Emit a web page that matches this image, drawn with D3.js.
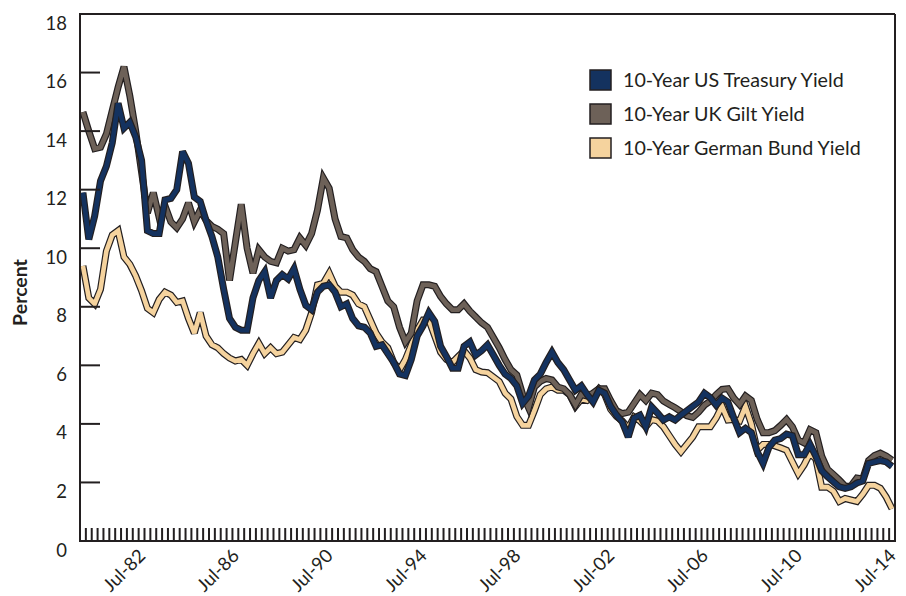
<!DOCTYPE html>
<html>
<head>
<meta charset="utf-8">
<script src="https://cdn.jsdelivr.net/npm/d3@7/dist/d3.min.js"></script>
<style>
  html, body { margin: 0; padding: 0; background: #ffffff; }
  svg { display: block; }
  text { font-family: "Lato", "Open Sans", sans-serif; fill: #231f20; }
</style>
</head>
<body>
<svg id="chart" width="906" height="596"></svg>
<script>
// ---------------- DATA ----------------
const monthNames = ["Jan", "Apr", "Jul", "Oct"];
const quarters = [];
for (let yr = 1980; yr <= 2014; yr++) {
  for (let q = 0; q < 4; q++) {
    if (yr === 2014 && q > 2) break;
    quarters.push(monthNames[q] + "-" + String(yr).slice(2));
  }
}

const xTickLabels = ["Jul-82", "Jul-86", "Jul-90", "Jul-94", "Jul-98", "Jul-02", "Jul-06", "Jul-10", "Jul-14"];
const yTicks = [0, 2, 4, 6, 8, 10, 12, 14, 16, 18];

const usTreasury = [
  11.9,10.3,11.1,12.3,12.8,13.6,14.95,14.1,14.3,13.8,
  13.0,10.6,10.5,10.5,11.65,11.7,12.0,13.3,12.9,11.75,
  11.6,10.95,10.4,9.7,8.6,7.6,7.3,7.2,7.2,8.3,
  8.9,9.2,8.3,8.9,9.1,8.95,9.3,8.6,8.05,7.9,
  8.5,8.7,8.75,8.5,8.0,8.1,7.6,7.35,7.3,7.1,
  6.65,6.7,6.4,6.1,5.7,5.65,6.2,7.0,7.35,7.8,
  7.5,6.65,6.3,5.9,5.9,6.65,6.8,6.35,6.5,6.7,
  6.35,6.0,5.7,5.55,5.3,4.7,4.95,5.5,5.7,6.1,
  6.45,6.1,5.85,5.5,5.15,5.3,5.0,4.75,5.15,5.05,
  4.6,4.3,4.06,3.55,4.2,4.3,3.9,4.58,4.37,4.13,
  4.24,4.13,4.3,4.45,4.6,4.75,5.05,4.9,4.64,4.88,
  4.75,4.2,3.7,3.85,3.7,3.05,2.65,3.2,3.45,3.5,
  3.65,3.6,2.95,2.95,3.3,2.9,2.4,2.2,2.02,1.85,
  1.8,1.85,1.98,2.05,2.65,2.7,2.75,2.7,2.55
];

const ukGilt = [
  14.65,14.0,13.4,13.45,13.9,14.7,15.5,16.2,15.2,14.0,
  12.6,11.2,11.9,11.05,11.45,10.9,10.7,11.0,11.55,10.9,
  11.3,10.95,10.75,10.65,10.5,8.9,10.2,11.5,10.0,9.15,
  9.95,9.7,9.55,9.5,10.0,9.9,9.95,10.35,10.1,10.5,
  11.3,12.4,12.05,11.0,10.4,10.35,9.95,9.7,9.55,9.3,
  9.2,8.7,8.2,8.0,7.3,6.8,7.1,8.2,8.75,8.75,
  8.7,8.35,8.1,7.9,7.9,8.1,7.85,7.65,7.45,7.3,
  6.95,6.6,6.2,5.85,5.67,5.0,4.55,5.26,5.45,5.55,
  5.5,5.26,5.2,5.0,4.65,5.0,4.95,5.05,5.2,5.2,
  4.8,4.45,4.35,4.4,4.7,5.0,4.8,5.05,5.0,4.78,
  4.66,4.55,4.42,4.28,4.22,4.4,4.64,4.78,5.0,5.18,
  5.2,4.88,4.66,4.95,4.8,4.15,3.7,3.7,3.77,3.95,
  4.15,3.9,3.45,3.35,3.8,3.7,2.9,2.45,2.27,2.08,
  1.87,1.88,2.15,2.12,2.75,2.92,3.0,2.9,2.76
];

const germanBund = [
  9.4,8.3,8.1,8.6,9.9,10.45,10.6,9.7,9.45,9.05,
  8.55,7.95,7.8,8.25,8.5,8.4,8.15,8.2,7.6,7.1,
  7.8,7.0,6.7,6.6,6.4,6.25,6.15,6.2,6.0,6.4,
  6.75,6.4,6.6,6.4,6.45,6.7,6.95,6.88,7.2,7.8,
  8.75,8.8,9.15,8.7,8.5,8.5,8.4,8.1,8.0,7.55,
  7.1,6.8,6.6,6.1,5.85,6.2,6.7,7.2,7.55,7.55,
  7.0,6.45,6.2,6.1,6.3,6.5,6.25,5.85,5.77,5.75,
  5.6,5.45,5.05,4.85,4.25,3.95,3.95,4.45,5.0,5.2,
  5.26,5.15,5.15,5.0,4.6,4.85,4.8,4.95,5.2,5.0,
  4.5,4.25,4.1,3.85,4.24,4.1,3.9,4.15,4.1,3.9,
  3.6,3.3,3.05,3.3,3.55,3.9,3.9,3.9,4.2,4.6,
  4.13,4.15,4.1,4.6,4.0,3.1,3.3,3.3,3.25,3.18,
  3.1,2.7,2.3,2.6,3.0,2.8,1.84,1.84,1.7,1.35,
  1.45,1.4,1.35,1.6,1.9,1.9,1.8,1.5,1.1
];

const seriesNames = ["10-Year US Treasury Yield", "10-Year UK Gilt Yield", "10-Year German Bund Yield"];
const seriesColors = ["#14325f", "#6d6158", "#f5d39e"];

// ---------------- CHART ----------------
const svg = d3.select("#chart");
const plotL = 80, plotR = 895, plotT = 14, plotB = 541;
const ink = "#231f20";

const x = d3.scaleBand().domain(quarters).range([plotL, plotR]).padding(0);
const y = d3.scaleLinear().domain([0, 18]).range([plotB, plotT]);
const bw = x.bandwidth();

const allSeries = [
  { name: seriesNames[0], values: usTreasury, color: seriesColors[0] },
  { name: seriesNames[1], values: ukGilt, color: seriesColors[1] },
  { name: seriesNames[2], values: germanBund, color: seriesColors[2] }
];

const line = d3.line()
  .x((d, i) => x(quarters[i]) + bw / 2)
  .y(d => y(d));

const lineG = svg.append("g");
[2, 1, 0].forEach(k => {
  const s = allSeries[k];
  lineG.append("path")
    .attr("d", line(s.values))
    .attr("fill", "none")
    .attr("stroke", ink)
    .attr("stroke-width", 7)
    .attr("stroke-linejoin", "miter")
    .attr("stroke-miterlimit", 3);
  lineG.append("path")
    .attr("d", line(s.values))
    .attr("fill", "none")
    .attr("stroke", s.color)
    .attr("stroke-width", 4.6)
    .attr("stroke-linejoin", "miter")
    .attr("stroke-miterlimit", 3);
});

// frame
const frame = svg.append("g").attr("stroke", ink).attr("stroke-width", 2).attr("fill", "none");
frame.append("line").attr("x1", plotL).attr("x2", plotR).attr("y1", plotT).attr("y2", plotT);
frame.append("line").attr("x1", plotR).attr("x2", plotR).attr("y1", plotT).attr("y2", plotB);
frame.append("line").attr("x1", plotL).attr("x2", plotL).attr("y1", plotT - 1).attr("y2", plotB + 1);
frame.append("line").attr("x1", plotL - 1).attr("x2", plotR + 1).attr("y1", plotB).attr("y2", plotB);

// y ticks (inward) and labels
const yAxisG = svg.append("g");
yTicks.forEach(t => {
  yAxisG.append("line")
    .attr("x1", plotL).attr("x2", plotL + 20)
    .attr("y1", y(t)).attr("y2", y(t))
    .attr("stroke", ink).attr("stroke-width", 2);
  yAxisG.append("text")
    .attr("x", 67).attr("y", y(t) + 15.5)
    .attr("text-anchor", "end")
    .attr("font-size", 18.5)
    .text(t);
});

// x minor ticks at band boundaries
const xAxisG = svg.append("g");
const boundaries = quarters.map(q => x(q)).concat([x(quarters[quarters.length - 1]) + bw]);
boundaries.forEach(bx => {
  xAxisG.append("line")
    .attr("x1", bx).attr("x2", bx)
    .attr("y1", plotB).attr("y2", plotB - 13)
    .attr("stroke", ink).attr("stroke-width", 2);
});

// x labels, rotated
xTickLabels.forEach(lbl => {
  const cx = x(lbl) + bw / 2;
  xAxisG.append("text")
    .attr("transform", `translate(${cx + 5},${plotB + 16}) rotate(-45)`)
    .attr("text-anchor", "end")
    .attr("font-size", 18.5)
    .text(lbl);
});

// y axis title
svg.append("text")
  .attr("transform", `translate(27,${(plotT + plotB) / 2 + 15}) rotate(-90)`)
  .attr("text-anchor", "middle")
  .attr("font-size", 19.5)
  .attr("font-weight", "bold")
  .text("Percent");

// legend
const legend = svg.append("g");
allSeries.forEach((s, i) => {
  const cy = 80 + i * 34;
  legend.append("rect")
    .attr("x", 590).attr("y", cy - 10)
    .attr("width", 21).attr("height", 20)
    .attr("fill", s.color)
    .attr("stroke", ink).attr("stroke-width", 1.5);
  legend.append("text")
    .attr("x", 623).attr("y", cy + 7)
    .attr("font-size", 19.7)
    .text(s.name);
});
</script>
</body>
</html>
